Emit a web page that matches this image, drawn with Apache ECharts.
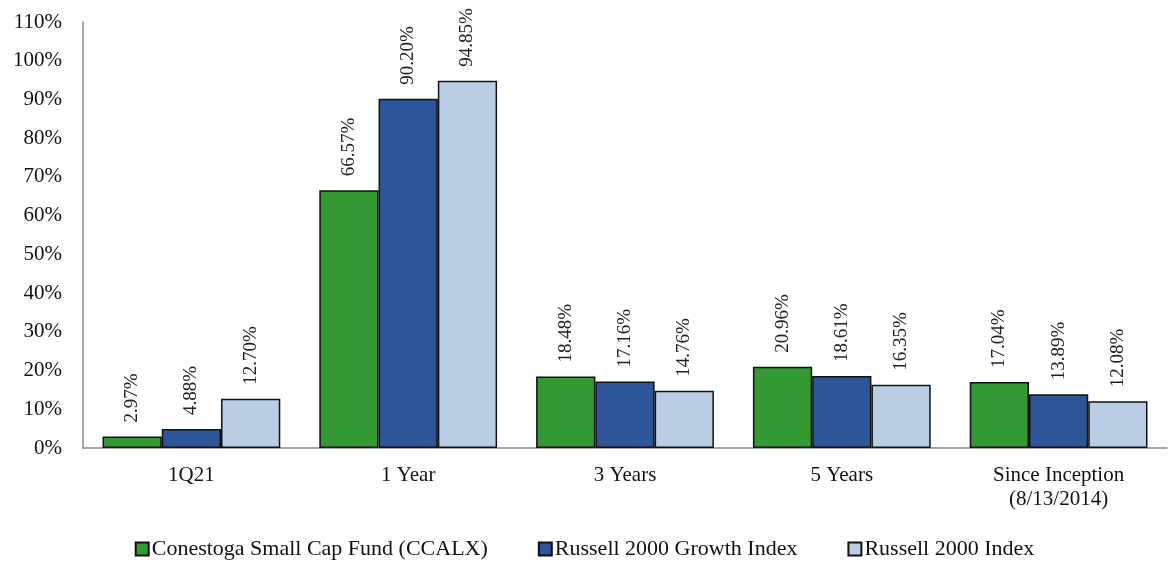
<!DOCTYPE html>
<html>
<head>
<meta charset="utf-8">
<script src="https://cdn.jsdelivr.net/npm/echarts@6/dist/echarts.min.js"></script>
<style>html,body{margin:0;padding:0;background:#fff}#c{width:1169px;height:562px}</style>
</head>
<body>
<div id="c"></div>
<script>
const categories = ['1Q21', '1 Year', '3 Years', '5 Years', 'Since Inception\n(8/13/2014)'];
const seriesNames = ['Conestoga Small Cap Fund (CCALX)', 'Russell 2000 Growth Index', 'Russell 2000 Index'];
const fundValues = [2.97, 66.57, 18.48, 20.96, 17.04];
const growthValues = [4.88, 90.20, 17.16, 18.61, 13.89];
const indexValues = [12.70, 94.85, 14.76, 16.35, 12.08];
const colors = ['#339933', '#2E5597', '#B9CDE5'];
const font = '"Liberation Serif", "DejaVu Serif", serif';

const mk = (name, data, color) => ({
  name, type: 'bar', data,
  barGap: '0%', barCategoryGap: '18%',
  itemStyle: { color, borderColor: '#111', borderWidth: 1.5 },
  label: {
    show: true, position: 'top', rotate: 90, align: 'left', verticalAlign: 'middle',
    distance: 14, fontFamily: font, fontSize: 19, color: '#222',
    formatter: p => p.value.toFixed(2) + '%'
  }
});

const chart = echarts.init(document.getElementById('c'));
chart.setOption({
  animation: false,
  textStyle: { fontFamily: font },
  grid: { left: 83, right: 2, top: 22, bottom: 114, containLabel: false },
  legend: {
    bottom: -3, left: 'center', itemWidth: 13, itemHeight: 13, itemGap: 50,
    icon: 'rect',
    textStyle: { fontFamily: font, fontSize: 22, color: '#111', padding: [0, 0, 0, -2] },
    data: seriesNames
  },
  xAxis: {
    type: 'category', data: categories,
    axisLine: { lineStyle: { color: '#888', width: 1.5 } },
    axisTick: { show: false },
    axisLabel: { fontFamily: font, fontSize: 21, color: '#111', margin: 15, lineHeight: 24 }
  },
  yAxis: {
    type: 'value', min: 0, max: 110, interval: 10,
    axisLine: { show: true, lineStyle: { color: '#888', width: 1.5 } },
    axisTick: { show: false },
    splitLine: { show: false },
    axisLabel: { fontFamily: font, fontSize: 21, color: '#111', margin: 21, formatter: v => v + '%' }
  },
  series: [
    mk(seriesNames[0], fundValues, colors[0]),
    mk(seriesNames[1], growthValues, colors[1]),
    mk(seriesNames[2], indexValues, colors[2])
  ]
});
</script>
</body>
</html>
